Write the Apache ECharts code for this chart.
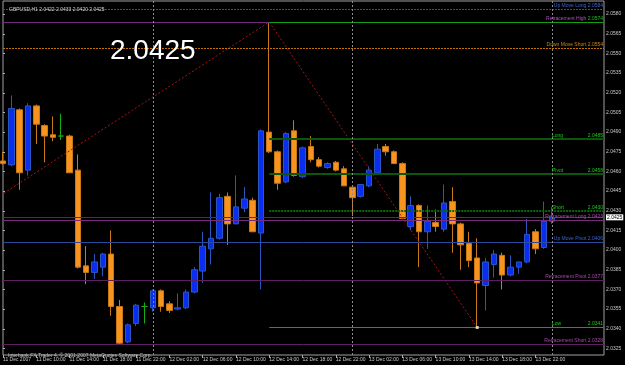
<!DOCTYPE html>
<html>
<head>
<meta charset="utf-8">
<title>GBPUSD,H1</title>
<script src="https://cdn.jsdelivr.net/npm/echarts@6/dist/echarts.min.js"></script>
<style>
html,body{margin:0;padding:0;background:#000;}
#chart{width:625px;height:365px;}
</style>
</head>
<body>
<div id="chart"></div>
<script>
// one bar per hour, index = hours since 11 Dec 06:00
var opens  = [2.0468,2.0465,2.0507,2.0461,2.0510,2.0495,2.0488,2.0487,2.0487,2.0461,
              2.0388,2.0383,2.0387,2.0397,2.0357,2.0330,2.0344,2.0357,2.0356,2.0369,
              2.0359,2.0355,2.0356,2.0368,2.0384,2.0401,2.0409,2.0441,2.0420,2.0432,
              2.0438,2.0413,2.0490,2.0475,2.0452,2.0491,2.0456,2.0479,2.0469,2.0463,
              2.0467,2.0462,2.0448,2.0441,2.0449,2.0459,2.0479,2.0475,2.0466,2.0418,
              2.0434,2.0414,2.0421,2.0416,2.0437,2.0420,2.0405,2.0394,2.0373,2.0389,
              2.0396,2.0381,2.0387,2.0391,2.0414,2.0402,2.0422];
var highs  = [2.0475,2.0518,2.0508,2.0512,2.0511,2.0496,2.0502,2.0504,2.0488,2.0473,
              2.0403,2.0397,2.0398,2.0415,2.0362,2.0344,2.0359,2.0360,2.0370,2.0370,
              2.0361,2.0367,2.0370,2.0387,2.0414,2.0444,2.0443,2.0444,2.0457,2.0448,
              2.0440,2.0492,2.0574,2.0476,2.0490,2.0499,2.0479,2.0487,2.0471,2.0467,
              2.0468,2.0464,2.0449,2.0450,2.0464,2.0481,2.0481,2.0476,2.0467,2.0441,
              2.0435,2.0434,2.0431,2.0450,2.0448,2.0421,2.0414,2.0409,2.0394,2.0400,
              2.0398,2.0396,2.0391,2.0424,2.0416,2.0437,2.0433];
var lows   = [2.0465,2.0464,2.0446,2.0457,2.0481,2.0467,2.0483,2.0484,2.0459,2.0386,
              2.0374,2.0378,2.0380,2.0350,2.0328,2.0329,2.0342,2.0344,2.0353,2.0353,
              2.0352,2.0354,2.0355,2.0367,2.0375,2.0389,2.0408,2.0404,2.0420,2.0429,
              2.0414,2.0370,2.0474,2.0446,2.0451,2.0456,2.0455,2.0467,2.0463,2.0462,
              2.0460,2.0449,2.0426,2.0440,2.0448,2.0458,2.0472,2.0466,2.0424,2.0415,
              2.0387,2.0401,2.0414,2.0414,2.0398,2.0385,2.0387,2.0341,2.0354,2.0379,
              2.0370,2.0380,2.0382,2.0390,2.0397,2.0401,2.0420];
var closes = [2.0466,2.0508,2.0459,2.0510,2.0496,2.0487,2.0486,2.0487,2.0459,2.0387,
              2.0383,2.0391,2.0397,2.0357,2.0329,2.0343,2.0358,2.0357,2.0369,2.0357,
              2.0354,2.0356,2.0368,2.0385,2.0403,2.0409,2.0440,2.0420,2.0433,2.0439,
              2.0414,2.0491,2.0475,2.0451,2.0489,2.0457,2.0478,2.0469,2.0464,2.0466,
              2.0461,2.0449,2.0440,2.0450,2.0461,2.0477,2.0475,2.0466,2.0424,2.0434,
              2.0414,2.0422,2.0418,2.0436,2.0420,2.0404,2.0392,2.0375,2.0391,2.0397,
              2.0381,2.0387,2.0391,2.0412,2.0401,2.0422,2.0425];

// labels every 4 bars
var timeLabels = ['11 Dec 2007','11 Dec 10:00','11 Dec 14:00','11 Dec 18:00','11 Dec 22:00',
                  '12 Dec 02:00','12 Dec 06:00','12 Dec 10:00','12 Dec 14:00','12 Dec 18:00',
                  '12 Dec 22:00','13 Dec 02:00','13 Dec 06:00','13 Dec 10:00','13 Dec 14:00',
                  '13 Dec 18:00','13 Dec 22:00'];
var priceTicks = ['2.0580','2.0565','2.0550','2.0535','2.0520','2.0505','2.0490','2.0475',
                  '2.0460','2.0445','2.0430','2.0415','2.0400','2.0385','2.0370','2.0355',
                  '2.0340','2.0325'];

// levels drawn over the whole chart
var levelNames  = ['Up Move Long','Retracement High','Down Move Short','Retracement Long',
                   'Up Move Pivot','Retracement Pivot','Retracement Short'];
var levelValues = [2.0584,2.0574,2.0554,2.0423,2.0406,2.0377,2.0328];
// levels starting at the high bar
var pivotNames  = ['High','Long','Pivot','Short','Low'];
var pivotValues = [2.0574,2.0485,2.0458,2.0430,2.0341];
var pivotStart  = 32;

var zigzag = [[-10,2.0402],[32,2.0574],[57,2.0341]];
var daySeparators = [18,42,66];
var lastPrice = 2.0425;
var header = 'GBPUSD,H1 2.0422 2.0433 2.0420 2.0425';

var xMax = 72.24;
var font = 'Liberation Sans';

var styles = {
    'Up Move Long':      {color:'#2d4ea6', width:1, type:[2,1], text:'#3b62cc'},
    'Retracement High':  {color:'#6f2a7c', width:1, type:'solid', text:'#b04cc0', value:'#18c018'},
    'Down Move Short':   {color:'#c27400', width:1, type:[2,1], text:'#d08418'},
    'Retracement Long':  {color:'#7a2a7a', width:1, type:'solid', text:'#a848b0'},
    'Up Move Pivot':     {color:'#2a4a9c', width:1, type:'solid', text:'#3b62cc'},
    'Retracement Pivot': {color:'#5e205e', width:1, type:'solid', text:'#a848b0'},
    'Retracement Short': {color:'#5e205e', width:1, type:'solid', text:'#a848b0'},
    'High':  {color:'#10a010', width:1, type:'solid'},
    'Long':  {color:'#0b560b', width:2, type:'solid', text:'#1ec81e'},
    'Pivot': {color:'#0b560b', width:2, type:'solid', text:'#1ec81e'},
    'Short': {color:'#0b660b', width:2, type:[2,1], text:'#1ec81e'},
    'Low':   {color:'#00b000', width:1, type:'solid', text:'#1ec81e'}
};

// text width, for spreading short labels over the same span as long ones
var measureCtx = document.createElement('canvas').getContext('2d');
measureCtx.font = '5px "' + font + '"';
function textW(t){ return measureCtx.measureText(t).width; }

function levelLabel(name, value){
    var s = styles[name];
    if (!s.text) return {show:false};
    var v = value.toFixed(4);
    var gap = name.length < 8 ? Math.max(2, 51 - textW(name) - textW(v)) : textW(' ');
    return {
        show: true,
        position: 'insideEndTop',
        distance: [1, 1],
        fontFamily: font,
        fontSize: 5,
        formatter: '{n|' + name + '}{v|' + v + '}',
        rich: {
            n: {color: s.text, fontSize: 5, fontFamily: font},
            v: {color: s.value || s.text, fontSize: 5, fontFamily: font, padding: [0, 0, 0, gap]}
        }
    };
}

var bars = [];
for (var i = 0; i < opens.length; i++) {
    bars.push([i, opens[i], closes[i], lows[i], highs[i]]);
}

var markData = [];
for (var i = 0; i < levelNames.length; i++) {
    var s = styles[levelNames[i]];
    markData.push({
        yAxis: levelValues[i],
        lineStyle: {color: s.color, width: s.width, type: s.type},
        label: levelLabel(levelNames[i], levelValues[i])
    });
}
for (var i = 0; i < pivotNames.length; i++) {
    var s = styles[pivotNames[i]];
    markData.push([
        {coord: [pivotStart, pivotValues[i]],
         lineStyle: {color: s.color, width: s.width, type: s.type},
         label: levelLabel(pivotNames[i], pivotValues[i])},
        {coord: [xMax, pivotValues[i]]}
    ]);
}
// bid line + price box on the axis
markData.push({
    yAxis: lastPrice,
    lineStyle: {color: '#a0102c', width: 1, type: 'solid'},
    label: {show: true, position: 'end', distance: 2, formatter: lastPrice.toFixed(4),
            color: '#000', backgroundColor: '#fff', padding: [1, 1, 0, 1],
            fontSize: 5, fontFamily: font}
});
for (var i = 0; i < daySeparators.length; i++) {
    markData.push({
        xAxis: daySeparators[i],
        lineStyle: {color: '#8c8c8c', width: 1, type: [2, 2]},
        label: {show: false}
    });
}

var chart = echarts.init(document.getElementById('chart'), null, {renderer: 'canvas'});
var option = {
    backgroundColor: '#000',
    animation: false,
    title: [
        {text: header, left: 4, top: 2,
         textStyle: {color: '#d0d0d0', fontSize: 5, fontWeight: 'normal', fontFamily: font}},
        {text: lastPrice.toFixed(4), left: 105, top: 32,
         textStyle: {color: '#fff', fontSize: 28, fontWeight: 'normal', fontFamily: font}},
        {text: 'Interbank FX Trader 4, \u00a9 2001-2007 MetaQuotes Software Corp.', left: 3, top: 348,
         textStyle: {color: '#c0c0c0', fontSize: 5, fontWeight: 'normal', fontFamily: font}}
    ],
    grid: {
        left: 2, right: 21, top: 1, bottom: 10,
        show: true, borderColor: '#a0a0a0', borderWidth: 1, backgroundColor: '#000'
    },
    xAxis: {
        type: 'value',
        min: 0,
        max: xMax,
        axisLine: {show: false},
        splitLine: {show: false},
        axisTick: {show: true, length: 3, lineStyle: {color: '#b0b0b0'},
                   customValues: timeLabels.map(function(t, i){ return i * 4; })},
        axisLabel: {
            customValues: timeLabels.map(function(t, i){ return i * 4; }),
            formatter: function(v){ return timeLabels[Math.round(v / 4)]; },
            color: '#c8c8c8', fontSize: 5, fontFamily: font, align: 'left', margin: 2
        }
    },
    yAxis: {
        type: 'value',
        position: 'right',
        min: 2.0320,
        max: 2.0590,
        axisLine: {show: false},
        splitLine: {show: false},
        axisTick: {show: true, length: 2, lineStyle: {color: '#b0b0b0'},
                   customValues: priceTicks.map(Number)},
        axisLabel: {
            customValues: priceTicks.map(Number),
            formatter: function(v){ return v.toFixed(4); },
            color: '#c8c8c8', fontSize: 5, fontFamily: font, margin: 2
        }
    },
    series: [
        {
            type: 'candlestick',
            data: bars,
            encode: {x: 0, y: [1, 2, 3, 4]},
            barWidth: 6,
            clip: false,
            itemStyle: {
                color: '#0a2ef0',
                color0: '#f7931e',
                borderColor: '#2a56c0',
                borderColor0: '#c87814',
                borderColorDoji: '#10b010',
                borderWidth: 1
            },
            markLine: {
                silent: true,
                precision: 4,
                symbol: ['none', 'none'],
                animation: false,
                data: markData
            }
        },
        {
            type: 'line',
            data: zigzag,
            symbol: 'none',
            lineStyle: {color: '#a81414', width: 1, type: [2, 2]},
            z: 3
        },
        {
            type: 'scatter',
            data: [zigzag[2]],
            symbol: 'rect',
            symbolSize: 3,
            itemStyle: {color: '#fff8d8'},
            z: 6
        }
    ]
};
chart.setOption(option);
</script>
</body>
</html>
